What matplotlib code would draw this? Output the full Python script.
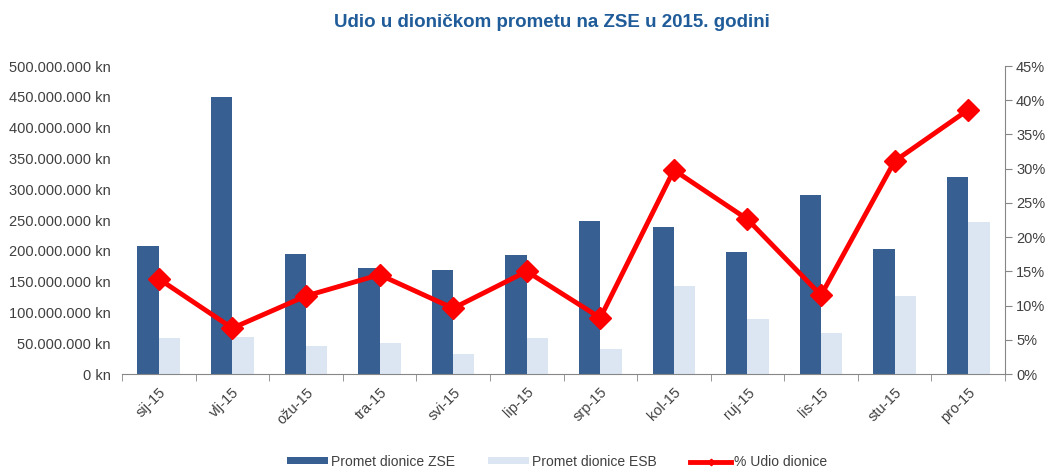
import matplotlib.pyplot as plt
import numpy as np
from matplotlib.ticker import FuncFormatter, MultipleLocator

plt.rcParams['font.family'] = ['Liberation Sans', 'DejaVu Sans']

months = ['sij-15', 'vlj-15', 'ožu-15', 'tra-15', 'svi-15', 'lip-15',
          'srp-15', 'kol-15', 'ruj-15', 'lis-15', 'stu-15', 'pro-15']
promet_zse = [208e6, 450e6, 195e6, 172e6, 169e6, 193e6,
              248e6, 238e6, 198e6, 290e6, 203e6, 320e6]
promet_esb = [58e6, 60e6, 45e6, 50e6, 33e6, 58e6,
              40e6, 143e6, 89e6, 66e6, 127e6, 247e6]
udio = [13.9, 6.7, 11.4, 14.5, 9.6, 15.0,
        8.2, 29.8, 22.6, 11.5, 31.1, 38.6]

txt = '#404040'
fig = plt.figure(figsize=(10.47, 4.68), dpi=100)
ax = fig.add_axes([122 / 1047, 1 - 374 / 468, (1005 - 122) / 1047, 308 / 468])

x = np.arange(len(months))
w = 0.29
ax.bar(x - w / 2, promet_zse, w, color='#375F91', label='Promet dionice ZSE', zorder=2)
ax.bar(x + w / 2, promet_esb, w, color='#DCE6F2', label='Promet dionice ESB', zorder=2)
ax.set_xlim(-0.5, len(months) - 0.5)
ax.set_ylim(0, 500e6)
ax.yaxis.set_major_locator(MultipleLocator(50e6))

def kn(v, pos):
    return '{:,.0f} kn'.format(v).replace(',', '.')

ax.yaxis.set_major_formatter(FuncFormatter(kn))
ax.set_xticks(x)
ax.set_xticklabels(months, rotation=45, ha='right', rotation_mode='anchor')
ax.set_xticks(np.arange(-0.5, len(months)), minor=True)
ax.tick_params(axis='x', which='major', length=0, pad=8, labelsize=10.5, colors=txt)
ax.tick_params(axis='x', which='minor', length=5, color='#868686')
ax.tick_params(axis='y', length=0, labelsize=10.5, colors=txt, pad=8)
for s in ['top', 'right', 'left']:
    ax.spines[s].set_visible(False)
ax.spines['bottom'].set_color('#868686')

ax2 = ax.twinx()
ax2.plot(x, udio, color='#FF0000', lw=3.5, marker='D', ms=11,
         label='% Udio dionice', zorder=3)
ax2.set_ylim(0, 45)
ax2.yaxis.set_major_locator(MultipleLocator(5))
ax2.yaxis.set_major_formatter(FuncFormatter(lambda v, p: '{:.0f}%'.format(v)))
ax2.tick_params(axis='y', length=5, color='#868686', labelsize=10.5, colors=txt, pad=3)
for s in ['top', 'left', 'bottom']:
    ax2.spines[s].set_visible(False)
ax2.spines['right'].set_color('#868686')

h1, l1 = ax.get_legend_handles_labels()
h2, l2 = ax2.get_legend_handles_labels()
leg = fig.legend(h1 + h2, l1 + l2, loc='center', bbox_to_anchor=(0.532, 0.013),
                 ncol=3, frameon=False, fontsize=10, handlelength=2.95,
                 handletextpad=0.2, columnspacing=2.4, handleheight=0.4,
                 markerscale=0.3)
for t in leg.get_texts():
    t.set_color(txt)

fig.suptitle('Udio u dioničkom prometu na ZSE u 2015. godini', x=0.527, y=0.97,
             fontsize=13.5, fontweight='bold', color='#1F5C99')
fig.savefig('out.png', dpi=100)
